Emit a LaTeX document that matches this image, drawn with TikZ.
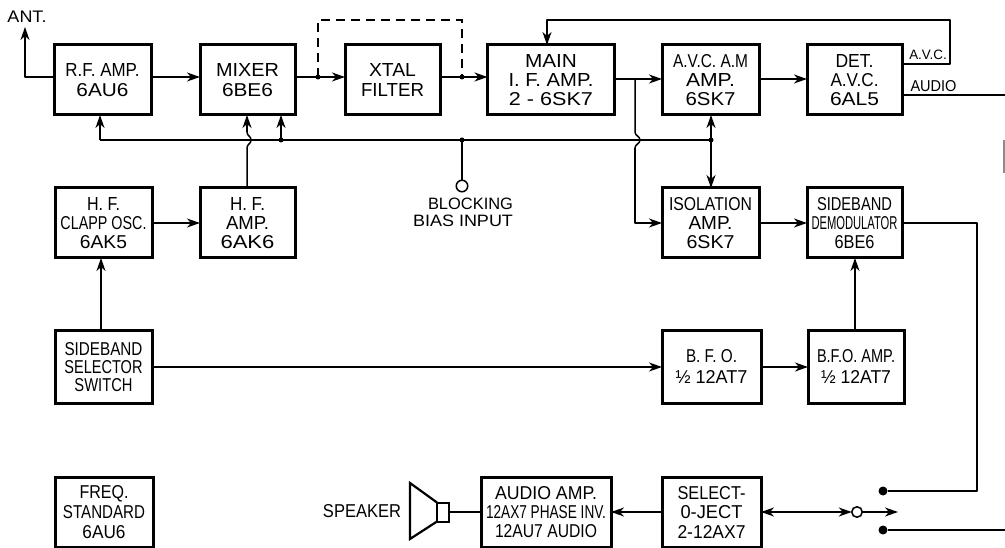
\documentclass[tikz,border=0pt]{standalone}
\usepackage{graphicx}
\usepackage{fontspec}
\setmainfont{Liberation Sans}
\usetikzlibrary{arrows.meta}
\newcommand\FF[1]{\fontsize{14}{#1}\selectfont}
\newcommand\TL[2]{\resizebox{#1pt}{13pt}{#2}}
\newcommand\TS[2]{\resizebox{#1pt}{11.5pt}{#2}}
\tikzset{
  blk/.style={draw,line width=3pt,outer sep=0pt,inner sep=0pt,align=center,text=black},
  blkA/.style={blk,minimum width=97pt,minimum height=70pt},
  wire/.style={line width=1.5pt,line join=round},
  arr/.style={wire,-{Stealth[length=13pt,width=9pt,inset=4pt]}},
  darr/.style={wire,{Stealth[length=13pt,width=9pt,inset=4pt]}-{Stealth[length=13pt,width=9pt,inset=4pt]}},
  dashw/.style={line width=1.7pt,dash pattern=on 9pt off 6pt},
  jdot/.style={circle,fill,inner sep=0pt,minimum size=5pt},
  sdot/.style={circle,fill,inner sep=0pt,minimum size=9pt},
  ring/.style={circle,draw,line width=1.5pt,fill=white,inner sep=0pt,minimum size=10.5pt,outer sep=0pt},
  lab/.style={inner sep=0pt,align=center},
}
\begin{document}
\begin{tikzpicture}[x=1pt,y=-1pt]
\useasboundingbox (0,0) rectangle (1005,548);
% boxes
\node[blkA,font=\FF{20.5}] (rf) at (102.5,80) {\TL{74}{R.F. AMP.}\\\TL{52}{6AU6}};
\node[blkA,minimum width=95pt,font=\FF{20.5}] (mixer) at (247.5,80) {\TL{63}{MIXER}\\\TL{51}{6BE6}};
\node[blkA,minimum width=95pt,font=\FF{20.5}] (xtal) at (392.5,80) {\TL{47}{XTAL}\\\TL{63}{FILTER}};
\node[blkA,minimum width=127pt,font=\FF{18.7}] (main) at (551,80) {\TL{52}{MAIN}\\\TL{85}{I. F. AMP.}\\\TL{84}{2 - 6SK7}};
\node[blkA,font=\FF{18.7}] (avc) at (710.5,80) {\TL{75}{A.V.C. A.M}\\\TL{49}{AMP.}\\\TL{50}{6SK7}};
\node[blkA,minimum width=95pt,font=\FF{18.7}] (det) at (854.5,80) {\TL{38}{DET.}\\\TL{48}{A.V.C.}\\\TL{49}{6AL5}};
\node[blkA,font=\FF{19}] (clapp) at (103.5,223) {\TL{33}{H. F.}\\\TL{86}{CLAPP OSC.}\\\TL{47}{6AK5}};
\node[blkA,minimum width=95pt,font=\FF{19}] (hfamp) at (247.5,223) {\TL{35}{H. F.}\\\TL{43}{AMP.}\\\TL{54}{6AK6}};
\node[blkA,font=\FF{19}] (iso) at (710.5,223) {\TL{83}{ISOLATION}\\\TL{44}{AMP.}\\\TL{48}{6SK7}};
\node[blkA,minimum width=95pt,font=\FF{19}] (dem) at (854.5,223) {\TL{75}{SIDEBAND}\\\TL{86}{DEMODULATOR}\\\TL{40}{6BE6}};
\node[blkA,minimum height=72pt,font=\FF{18}] (sel) at (103.5,367) {\TL{78}{SIDEBAND}\\\TL{78}{SELECTOR}\\\TL{58}{SWITCH}};
\node[blkA,minimum width=99pt,minimum height=72pt,font=\FF{21}] (bfo) at (711.5,367) {\TL{51}{B. F. O.}\\\TL{72}{½ 12AT7}};
\node[blkA,minimum width=96pt,minimum height=72pt,font=\FF{21}] (bfoamp) at (856,367) {\TL{78}{B.F.O. AMP.}\\\TL{70}{½ 12AT7}};
\node[blkA,minimum width=98pt,font=\FF{20}] (freq) at (104,512) {\TL{49}{FREQ.}\\\TL{82}{STANDARD}\\\TL{43}{6AU6}};
\node[blkA,minimum width=130pt,font=\FF{19}] (audio) at (546,512) {\TL{102}{AUDIO AMP.}\\\TL{120}{12AX7 PHASE INV.}\\\TL{102}{12AU7 AUDIO}};
\node[blkA,minimum width=99pt,font=\FF{19.5}] (select) at (711.5,512) {\TL{68}{SELECT-}\\\TL{62}{0-JECT}\\\TL{68}{2-12AX7}};
% labels
\node[lab] (antl) at (27,17) {\TS{39}{ANT.}};
\node[lab,align=right,font=\FF{17}] (block) at (463,212) {\TS{85}{BLOCKING}\\\TS{100}{BIAS INPUT}};
\node[lab] (spk) at (362,511) {\TL{78}{SPEAKER}};
\node[lab] (avcl) at (928,55) {\resizebox{37.5pt}{9.5pt}{A.V.C.}};
\node[lab] (audl) at (933.5,86) {\resizebox{46pt}{11pt}{AUDIO}};
% coordinates
\coordinate (ya) at (0,77);
\coordinate (ym) at (0,79);
\coordinate (top) at (0,20);
\coordinate (ant) at (25,27);
\node[jdot] (j1) at (318,77) {};
\node[jdot] (j2) at (462,77) {};
\node[jdot] (j3) at (281,140) {};
\node[jdot] (j4) at (462,140) {};
\node[jdot] (j5) at (711,140) {};
\coordinate (j6) at (635,79);
\node[ring,minimum size=11.5pt] (bias) at (462,186) {};
\coordinate (b0) at (100,140);
\coordinate (h1a) at (247,148);
\coordinate (h1c) at (247,132);
\coordinate (h2a) at (635,148);
\coordinate (h2c) at (635,132);
\coordinate (xs) at (101,0);
\coordinate (xb) at (855,0);
% top row
\draw[arr] (rf.west |- ya) -| (ant);
\draw[arr] (rf.east |- ya) -- (mixer.west |- ya);
\draw[arr] (mixer.east |- ya) -- (xtal.west |- ya);
\draw[arr] (xtal.east |- ya) -- (main.west |- ya);
\draw[dashw] (j1.center) -- (j1 |- top) -- (j2 |- top) -- (j2.center);
\draw[arr] (main.east |- ym) -- (avc.west |- ym);
\draw[arr] (avc.east |- ym) -- (det.west |- ym);
% avc feedback
\coordinate (av1) at (950,64);
\coordinate (av2) at (950,20);
\coordinate (av3) at (547,20);
\draw[arr] (det.east |- av1) -- (av1) -- (av2) -- (av3) -- (av3 |- main.north);
% audio out
\coordinate (aud) at (1005,95);
\draw[wire] (det.east |- aud) -- (aud);
% bias bus
\draw[wire] (b0) -- (j5.center);
\draw[arr] (b0) -- (b0 |- rf.south);
\draw[arr] (j3.center) -- (j3 |- mixer.south);
\draw[wire] (j4.center) -- (bias.north);
\draw[arr] (j5.center) -- (j5 |- avc.south);
\draw[arr] (j5.center) -- (j5 |- iso.north);
% hops
\draw[wire] (h1a |- hfamp.north) -- (h1a) .. controls (247,144) and (251,144) .. (251,140) .. controls (251,136) and (247,136) .. (h1c);
\draw[arr] (h1c) -- (h1c |- mixer.south);
\draw[wire] (j6) -- (h2c) .. controls (635,136) and (640,136) .. (640,140) .. controls (640,144) and (635,144) .. (h2a);
\draw[arr] (h2a) |- (iso.west);
% lower rows
\draw[arr] (clapp.east) -- (hfamp.west);
\draw[arr] (xs |- sel.north) -- (xs |- clapp.south);
\draw[arr] (sel.east) -- (bfo.west);
\draw[arr] (bfo.east) -- (bfoamp.west);
\draw[arr] (xb |- bfoamp.north) -- (xb |- dem.south);
\draw[arr] (iso.east) -- (dem.west);
% switch
\node[sdot] (s1) at (883,491) {};
\node[sdot] (s2) at (883,530) {};
\node[ring] (sw) at (857,512) {};
\coordinate (sarr) at (898,512);
\coordinate (r1) at (977,223);
\coordinate (r2) at (977,491);
\coordinate (out2) at (1005,530);
\draw[wire] (dem.east) -- (r1) -- (r2) -- (s1);
\draw[wire] (s2) -- (out2);
\draw[darr] (select.east) -- (sw.west);
\draw[arr] (sw.east) -- (sarr);
\draw[arr] (select.west) -- (audio.east);
% speaker
\node[draw,line width=2pt,minimum width=12pt,minimum height=19pt,inner sep=0pt,outer sep=0pt] (neck) at (443,512) {};
\coordinate (c1) at (410,483);
\coordinate (c2) at (410,539);
\draw[line width=2.2pt,line join=miter] (neck.north west) -- (c1) -- (c2) -- (neck.south west);
\draw[wire] (neck.east) -- (audio.west);
% scan mark at right edge
\coordinate (m1) at (1004,140);
\coordinate (m2) at (1004,173);
\draw[line width=1.5pt,black!45] (m1) -- (m2);
\end{tikzpicture}
\end{document}
